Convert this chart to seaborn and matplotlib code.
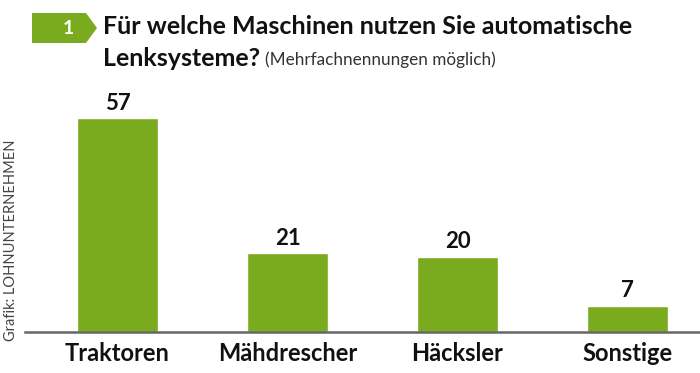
import matplotlib
matplotlib.use('Agg')
import matplotlib.pyplot as plt
from matplotlib.patches import Polygon
import seaborn as sns
import pandas as pd

# data
categories = ["Traktoren", "Mähdrescher", "Häcksler", "Sonstige"]
values = [57, 21, 20, 7]

df = pd.DataFrame({"Maschine": categories, "Anzahl": values})

sns.set_style("white")
plt.rcParams['font.family'] = ['Lato', 'DejaVu Sans']

green = "#7aab1e"

fig = plt.figure(figsize=(7, 3.73), dpi=100)
ax = fig.add_axes([25 / 700, 1 - 332 / 373, 1 - 25 / 700, (332 - 100) / 373])

sns.barplot(data=df, x="Maschine", y="Anzahl", color=green, width=0.48,
            saturation=1, ax=ax)

ax.set_xlim(-0.544, 3.426)
ax.set_ylim(0, 232 / 3.75)

for i, v in enumerate(values):
    ax.text(i, v + 1.2, str(v), ha='center', va='bottom',
            fontsize=16, fontweight='bold', color='#111111')

sns.despine(ax=ax, left=True)
ax.spines['bottom'].set_color('#666666')
ax.spines['bottom'].set_linewidth(1.8)
ax.set_yticks([])
ax.set_xlabel("")
ax.set_ylabel("")
ax.tick_params(axis='x', length=0, pad=7, labelsize=17)
for lbl in ax.get_xticklabels():
    lbl.set_fontweight('bold')
    lbl.set_color('#111111')

# number tag in the header (pixel coords, top-left origin -> figure fraction)
tag_pts = [[x / 700, 1 - y / 373] for x, y in [[32, 13], [86, 13], [97, 28], [86, 43], [32, 43]]]
tag = Polygon(tag_pts, closed=True, facecolor=green, edgecolor='none',
              transform=fig.transFigure)
fig.patches.append(tag)
fig.text(68 / 700, 1 - 28 / 373, "1", ha='center', va='center',
         fontsize=14, fontweight='bold', color='white')

fig.text(103 / 700, 1 - 27 / 373, "Für welche Maschinen nutzen Sie automatische",
         ha='left', va='center', fontsize=18, fontweight='bold', color='#111111')
t = fig.text(103 / 700, 1 - 58 / 373, "Lenksysteme?", ha='left', va='center',
             fontsize=18, fontweight='bold', color='#111111')
fig.canvas.draw()
bb = t.get_window_extent()
fig.text((bb.x1 + 5) / 700, 1 - 60 / 373, "(Mehrfachnennungen möglich)",
         ha='left', va='center', fontsize=12.3, color='#333333')

fig.text(11 / 700, 1 - 240 / 373, "Grafik: LOHNUNTERNEHMEN", rotation=90,
         ha='center', va='center', fontsize=10.5, color='#444444')

fig.savefig("out.png", dpi=100)
